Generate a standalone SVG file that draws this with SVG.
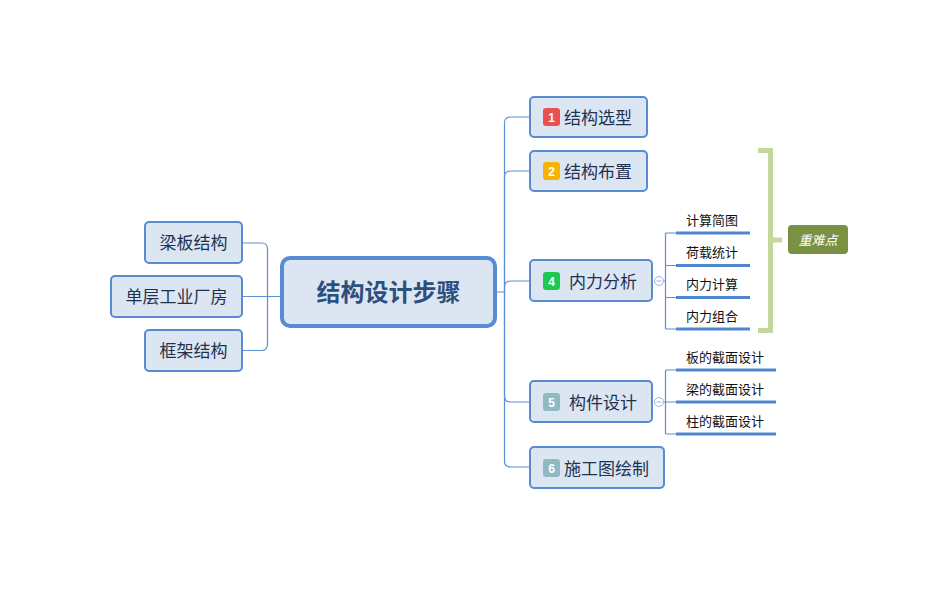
<svg xmlns="http://www.w3.org/2000/svg" width="940" height="592" viewBox="0 0 940 592">
<style>
.node{fill:#dce6f3;stroke:#578bd2;stroke-width:2}
.central{fill:#dce6f3;stroke:#578bd2;stroke-width:4}
.t{font-family:"Noto Sans CJK SC","Liberation Sans",sans-serif;font-size:17px;fill:#1e3250}
.ct{font-family:"Noto Sans CJK SC","Liberation Sans",sans-serif;font-size:24px;font-weight:bold;fill:#2d4f7e}
.st{font-family:"Noto Sans CJK SC","Liberation Sans",sans-serif;font-size:13px;fill:#111}
.bn{font-family:"Liberation Sans",sans-serif;font-size:12px;font-weight:bold;fill:#fff}
.conn{fill:none;stroke:#5b8fd6;stroke-width:1.2}
.ul{stroke:#4f86d0;stroke-width:3}
.tog{fill:#fff;stroke:#9bb6e2;stroke-width:1}
</style>
<g id="connectors">
<path class="conn" d="M243,296.5 H282"/>
<path class="conn" d="M267.5,296.5 V249 Q267.5,243 261.5,243 H243"/>
<path class="conn" d="M267.5,296.5 V344 Q267.5,350.5 261.5,350.5 H243"/>
<path class="conn" d="M496,292 H504.5 V123 Q504.5,117 510.5,117 H530"/>
<path class="conn" d="M504.5,292 V177 Q504.5,171 510.5,171 H530"/>
<path class="conn" d="M504.5,292 V287 Q504.5,281 510.5,281 H530"/>
<path class="conn" d="M504.5,292 V396 Q504.5,402 510.5,402 H530"/>
<path class="conn" d="M504.5,292 V461 Q504.5,467 510.5,467 H530"/>
<path class="conn" d="M663.5,281 H665.5 M665.5,233 V329 M665.5,233 H676 M665.5,265.5 H676 M665.5,297.5 H676 M665.5,329 H676"/>
<path class="conn" d="M663.5,402 H665.5 M665.5,370 V434 M665.5,370 H676 M665.5,434 H676 M665.5,402 H676"/>
<circle class="tog" cx="659" cy="281" r="4.5"/>
<line x1="656.5" y1="281" x2="661.5" y2="281" stroke="#9bb6e2" stroke-width="1"/>
<circle class="tog" cx="659" cy="402" r="4.5"/>
<line x1="656.5" y1="402" x2="661.5" y2="402" stroke="#9bb6e2" stroke-width="1"/>
</g>
<g id="central">
<rect class="central" x="282" y="258" width="213" height="68" rx="8"/>
<text class="ct" x="388.5" y="301" text-anchor="middle">结构设计步骤</text>
</g>
<g id="n-liangban">
<rect class="node" x="145" y="222" width="97" height="41" rx="4"/>
<text class="t" x="193.5" y="248.5" text-anchor="middle">梁板结构</text>
</g>
<g id="n-danceng">
<rect class="node" x="111" y="276" width="131" height="41" rx="4"/>
<text class="t" x="176.5" y="302.5" text-anchor="middle">单层工业厂房</text>
</g>
<g id="n-kuangjia">
<rect class="node" x="145" y="330" width="97" height="41" rx="4"/>
<text class="t" x="193.5" y="356.5" text-anchor="middle">框架结构</text>
</g>
<g id="n1">
<rect class="node" x="530" y="97" width="117" height="40" rx="4"/>
<rect x="543" y="108" width="17" height="18" rx="3" fill="#e9504f"/>
<text class="bn" x="551.5" y="121.5" text-anchor="middle">1</text>
<text class="t" x="564" y="123.5">结构选型</text>
</g>
<g id="n2">
<rect class="node" x="530" y="151" width="117" height="40" rx="4"/>
<rect x="543" y="162" width="17" height="18" rx="3" fill="#f8b300"/>
<text class="bn" x="551.5" y="175.5" text-anchor="middle">2</text>
<text class="t" x="564" y="177.5">结构布置</text>
</g>
<g id="n4">
<rect class="node" x="530" y="260" width="122" height="41" rx="4"/>
<rect x="543" y="272" width="17" height="18" rx="3" fill="#1ec952"/>
<text class="bn" x="551.5" y="285.5" text-anchor="middle">4</text>
<text class="t" x="569" y="287.5">内力分析</text>
</g>
<g id="n5">
<rect class="node" x="530" y="381" width="122" height="41" rx="4"/>
<rect x="543" y="393" width="17" height="18" rx="3" fill="#8fbac2"/>
<text class="bn" x="551.5" y="406.5" text-anchor="middle">5</text>
<text class="t" x="569" y="408.5">构件设计</text>
</g>
<g id="n6">
<rect class="node" x="530" y="447" width="134" height="41" rx="4"/>
<rect x="543" y="459" width="17" height="18" rx="3" fill="#8fbac2"/>
<text class="bn" x="551.5" y="472.5" text-anchor="middle">6</text>
<text class="t" x="564" y="474.5">施工图绘制</text>
</g>
<g id="s1"><line class="ul" x1="676" y1="233" x2="750" y2="233"/><text class="st" x="686" y="225">计算简图</text></g>
<g id="s2"><line class="ul" x1="676" y1="265.5" x2="750" y2="265.5"/><text class="st" x="686" y="257">荷载统计</text></g>
<g id="s3"><line class="ul" x1="676" y1="297.5" x2="750" y2="297.5"/><text class="st" x="686" y="289">内力计算</text></g>
<g id="s4"><line class="ul" x1="676" y1="329" x2="750" y2="329"/><text class="st" x="686" y="321">内力组合</text></g>
<g id="s5"><line class="ul" x1="676" y1="370" x2="776" y2="370"/><text class="st" x="686" y="362">板的截面设计</text></g>
<g id="s6"><line class="ul" x1="676" y1="402" x2="776" y2="402"/><text class="st" x="686" y="394">梁的截面设计</text></g>
<g id="s7"><line class="ul" x1="676" y1="434" x2="776" y2="434"/><text class="st" x="686" y="426">柱的截面设计</text></g>
<g id="summary">
<path d="M758,150.5 H770.5 V330.5 H758 M770.5,240 H782" fill="none" stroke="#c4d79d" stroke-width="5"/>
<rect x="788" y="225" width="60" height="29" rx="4" fill="#7a9143"/>
<text x="818" y="244.5" text-anchor="middle" font-family="Noto Sans CJK SC,Liberation Sans,sans-serif" font-size="13" font-style="italic" fill="#fff">重难点</text>
</g>
</svg>
